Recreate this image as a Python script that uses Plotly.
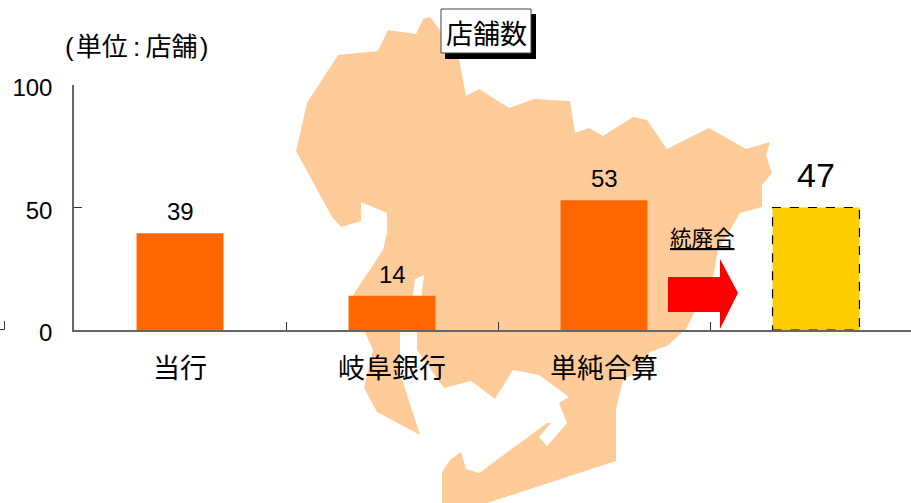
import plotly.graph_objects as go

# ---- data ----
categories = ["当行", "岐阜銀行", "単純合算", " "]
bar_heights = [39.5, 14, 53, 50]
bar_labels = ["39", "14", "53", "47"]
label_sizes = [24, 24, 24, 34]
label_gaps = [6, 6, 6, 12]
bar_colors = ["#FF6600", "#FF6600", "#FF6600", "#FFCC00"]
y_ticks = [0, 50, 100]

# ---- layout ----
W, H = 911, 503
L, T, B = 74, 85, 173
PW, PH = W - L, H - T - B
CAT_PX = 212
BAR_W = 0.41
NUM_FONT = "Liberation Sans, Arial, sans-serif"
CJK_FONT = "Noto Sans CJK JP, sans-serif"
MIX_FONT = "Liberation Sans, Noto Sans CJK JP, sans-serif"

def px(x, y):
    return (x - L) / PW, 1 - (y - T) / PH

def path(points):
    out = []
    for i, (x, y) in enumerate(points):
        a, b = px(x, y)
        out.append(("M" if i == 0 else "L") + f"{a:.5f},{b:.5f}")
    return " ".join(out) + " Z"

# decorative map silhouette behind the chart (pixel outline)
map_outline = [
    (423, 19), (430, 17), (440, 30), (459, 59), (466, 96), (479, 89), (509, 108), (534, 99),
    (570, 101), (575, 133), (589, 128), (603, 136), (633, 117), (647, 120), (667, 149),
    (709, 128), (746, 149), (770, 142), (766, 155), (772, 173), (762, 185), (762, 207),
    (740, 213), (718, 250), (713, 277), (692, 317), (686, 329), (667, 346), (650, 352),
    (632, 375), (623, 380), (616, 409), (616, 461), (487, 503), (442, 503), (442, 472),
    (450, 460), (461, 452), (466, 469), (479, 473), (547, 423), (551, 423), (539, 437),
    (547, 446), (567, 423), (559, 403), (569, 397), (539, 375), (513, 370), (495, 399),
    (471, 381), (444, 388), (417, 350), (417, 330), (424, 275), (415, 279), (413, 295),
    (400, 330), (400, 373), (420, 435), (377, 412), (364, 388), (373, 350), (364, 330),
    (353, 295), (383, 250), (387, 233), (387, 213), (361, 202), (361, 221), (341, 227),
    (332, 217), (296, 151), (307, 103), (338, 55), (378, 51), (388, 30), (416, 34),
]
arrow_outline = [(668, 277), (720, 277), (720, 259), (738, 293), (720, 329), (720, 312), (668, 312)]

fig = go.Figure(go.Bar(
    x=categories, y=bar_heights, width=BAR_W,
    marker=dict(color=bar_colors, line=dict(width=0)),
    hoverinfo="skip",
))

def paper_shape(**kw):
    return dict(xref="paper", yref="paper", **kw)

x0, y0 = px(441, 9); x1, y1 = px(531, 53)
sx0, sy0 = px(445, 14); sx1, sy1 = px(536, 59)
shapes = [
    paper_shape(type="path", path=path(map_outline), fillcolor="#FFCC99", line=dict(width=0), layer="below"),
    paper_shape(type="path", path=path(arrow_outline), fillcolor="#FF0000", line=dict(width=0), layer="above"),
    paper_shape(type="rect", x0=sx0, y0=sy0, x1=sx1, y1=sy1, fillcolor="#000000", line=dict(width=0), layer="above"),
    paper_shape(type="rect", x0=x0, y0=y0, x1=x1, y1=y1, fillcolor="#FFFFFF", line=dict(color="#444444", width=1), layer="above"),
    # dashed outline of the merged bar, placed on the data scales
    dict(type="rect", xref="x", yref="y", x0=3 - BAR_W / 2, x1=3 + BAR_W / 2, y0=0, y1=bar_heights[3],
         fillcolor="rgba(0,0,0,0)", line=dict(color="#000000", width=1.2, dash="dash"), layer="above"),
]
# stray tick at the far left of the picture
a0, b0 = px(0, 329.5); a1, b1 = px(4.5, 329.5); a2, b2 = px(4.5, 321)
shapes.append(paper_shape(type="path", path=f"M{a0},{b0} L{a1},{b1} L{a2},{b2}", line=dict(color="#333333", width=1)))

annotations = [
    dict(x=c, y=v, xref="x", yref="y", text=t, showarrow=False, yanchor="bottom", yshift=g,
         font=dict(family=NUM_FONT, size=s, color="#000000"))
    for c, v, t, s, g in zip(categories, bar_heights, bar_labels, label_sizes, label_gaps)
]
def note(x, y, text, font, size):
    a, b = px(x, y)
    return dict(x=a, y=b, xref="paper", yref="paper", text=text, showarrow=False,
                xanchor="center", yanchor="middle", font=dict(family=font, size=size, color="#000000"))
annotations += [
    note(136, 47, "(\u200a単位\u2009:\u2009店舗\u200a)", MIX_FONT, 26),
    note(486, 32, "店舗数", CJK_FONT, 27),
    note(702, 236, "<u>統廃合</u>", CJK_FONT, 21.5),
]

fig.update_layout(
    width=W, height=H, margin=dict(l=L, r=0, t=T, b=B, autoexpand=False),
    paper_bgcolor="#FFFFFF", plot_bgcolor="rgba(0,0,0,0)",
    showlegend=False, bargap=0.59, shapes=shapes, annotations=annotations,
)
fig.update_xaxes(
    type="category", categoryorder="array", categoryarray=categories,
    range=[-0.5, -0.5 + PW / CAT_PX], tickson="boundaries", ticks="inside", ticklen=8,
    tickcolor="#333333", tickwidth=1, showline=True, linecolor="#666666", linewidth=1.5,
    showgrid=False, zeroline=False, ticklabelstandoff=14,
    tickfont=dict(family=CJK_FONT, size=27, color="#000000"),
)
fig.update_yaxes(
    range=[0, 100], tickvals=y_ticks, ticks="inside", ticklen=8, tickcolor="#333333", tickwidth=1,
    showline=True, linecolor="#666666", linewidth=1.5, showgrid=False, zeroline=False,
    ticklabelstandoff=15, ticklabelshift=3,
    tickfont=dict(family=NUM_FONT, size=24, color="#000000"),
)

fig.write_html("out.html", config=dict(displayModeBar=False),
               post_script="document.body.style.margin='0';document.body.style.overflow='hidden';")
